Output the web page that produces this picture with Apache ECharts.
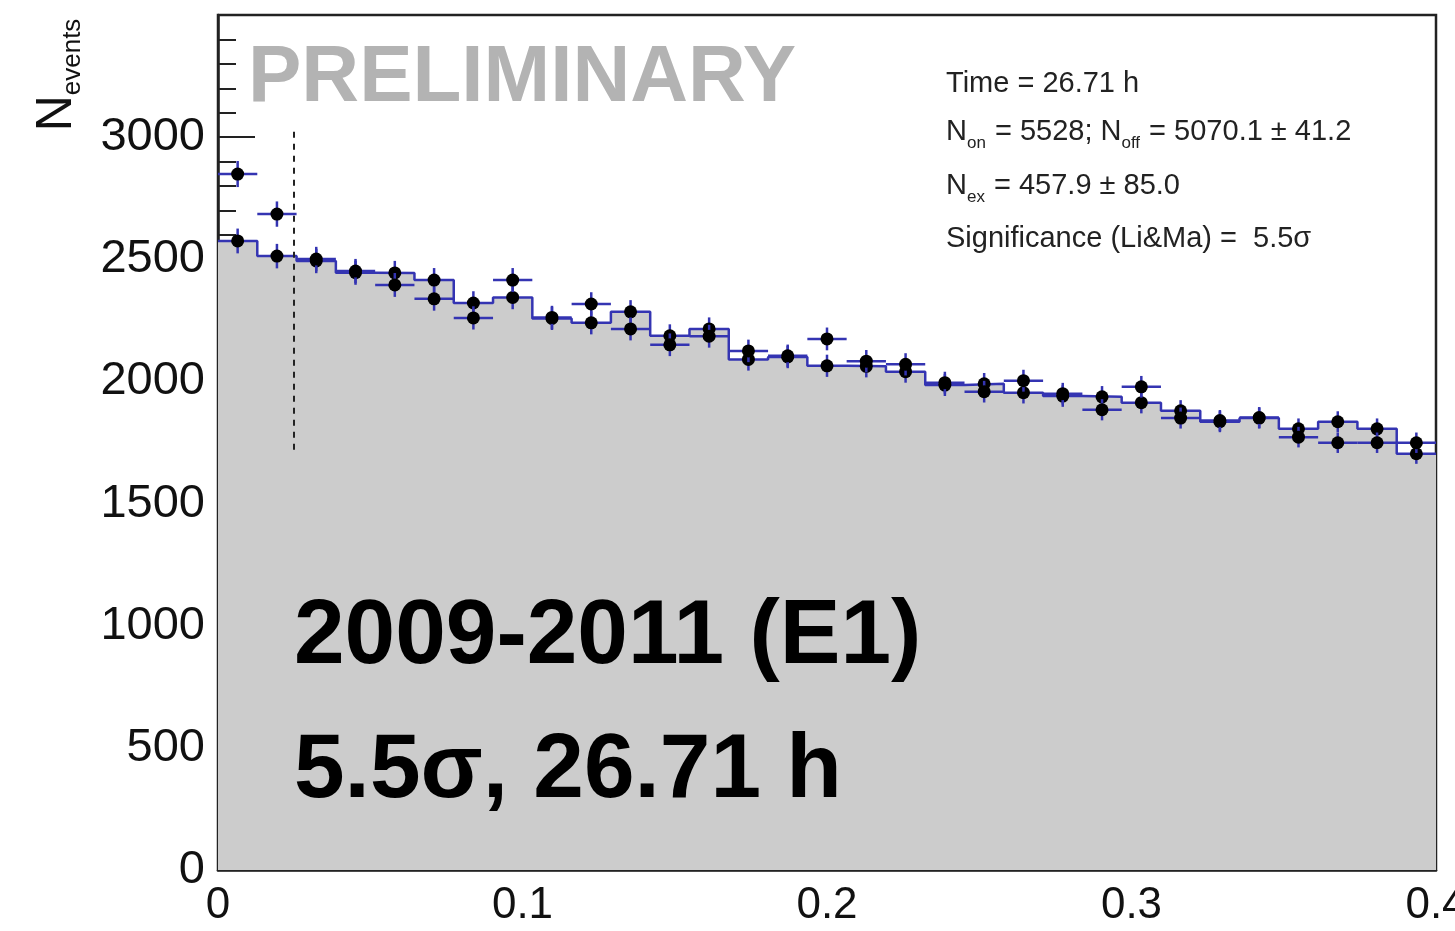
<!DOCTYPE html>
<html>
<head>
<meta charset="utf-8">
<script src="https://cdn.jsdelivr.net/npm/echarts@6/dist/echarts.min.js"></script>
<style>
html, body { margin: 0; padding: 0; background: #fff; }
#main { width: 1455px; height: 931px; }
</style>
</head>
<body>
<div id="main"></div>
<script>
// theta^2 histogram, 31 bins from 0 to 0.4
var xMax = 0.4;
var nBins = 31;
var onCounts = [2849, 2685, 2501, 2452, 2395, 2338, 2260, 2415, 2262, 2317, 2215,
                2150, 2185, 2125, 2105, 2174, 2083, 2070, 1995, 1958, 2003,
                1950, 1884, 1978, 1850, 1840, 1852, 1772, 1749, 1749, 1749];
var offCounts = [2575, 2513, 2493, 2445, 2444, 2415, 2321, 2344, 2258, 2240, 2285,
                 2187, 2215, 2090, 2100, 2064, 2062, 2040, 1985, 1990, 1954,
                 1940, 1937, 1913, 1880, 1835, 1850, 1806, 1835, 1806, 1704];
var thetaCut = 0.025;
var cutLineRange = [1720, 3040];
var statLines = ['Time = 26.71 h', 'N_on = 5528; N_off = 5070.1 ± 41.2', 'N_ex = 457.9 ± 85.0', 'Significance (Li&Ma) =  5.5σ'];

var blue = '#3434b2';
var binW = xMax / nBins;

// step outline for the background (off) histogram
var offStep = [];
var onPts = [];
var offPts = [];
for (var i = 0; i < nBins; i++) {
    offStep.push([i * binW, offCounts[i]]);
    offStep.push([(i + 1) * binW, offCounts[i]]);
    onPts.push([(i + 0.5) * binW, onCounts[i], binW]);
    offPts.push([(i + 0.5) * binW, offCounts[i], binW]);
}

function errRender(withXBar) {
    return function(params, api) {
        var xc = api.value(0), y = api.value(1), hw = api.value(2) / 2;
        var err = Math.sqrt(y);
        var p = api.coord([xc, y]);
        var l = api.coord([xc - hw, y]);
        var r = api.coord([xc + hw, y]);
        var t = api.coord([xc, y + err]);
        var b = api.coord([xc, y - err]);
        var kids = [];
        if (withXBar) {
            kids.push({type: 'line', shape: {x1: l[0], y1: l[1], x2: r[0], y2: r[1]},
                       style: {stroke: blue, lineWidth: 2.5}});
        }
        kids.push({type: 'line', shape: {x1: t[0], y1: t[1], x2: b[0], y2: b[1]},
                   style: {stroke: blue, lineWidth: 2.5}});
        kids.push({type: 'circle', shape: {cx: p[0], cy: p[1], r: 6.5}, style: {fill: '#000'}});
        return {type: 'group', children: kids};
    };
}

// text with subscripts: "N_on" -> N + sub
function richLine(s) {
    return s.replace(/N_(\w+)/g, function(m, sub) { return '{t|N}{s|' + sub + '}{t|}'; })
            .split(/(\{[ts]\|[^}]*\})/).map(function(part) {
                if (!part) return '';
                if (part.charAt(0) === '{') return part;
                return '{t|' + part + '}';
            }).join('');
}

var font = '"Liberation Sans", Arial, Helvetica, sans-serif';

var statGraphics = statLines.map(function(s, k) {
    return {
        type: 'text',
        left: 946,
        top: [69, 117, 171, 224][k],
        z: 100,
        style: {
            text: richLine(s),
            rich: {
                t: {fontSize: 29, fontFamily: font, fill: '#222', verticalAlign: 'top', lineHeight: 33},
                s: {fontSize: 17, fontFamily: font, fill: '#222', verticalAlign: 'top', padding: [18, 1, 0, 0], lineHeight: 17}
            }
        }
    };
});

var option = {
    backgroundColor: '#fff',
    animation: false,
    grid: {left: 218, right: 19, top: 15, bottom: 61, show: true, borderColor: '#222', borderWidth: 2.5,
           outerBoundsMode: 'none', containLabel: false},
    xAxis: {
        type: 'value', min: 0, max: xMax, interval: 0.1,
        axisLine: {show: true, onZero: false, lineStyle: {color: '#222', width: 2.5}},
        axisTick: {inside: true, length: 37, lineStyle: {color: '#222', width: 2}},
        minorTick: {show: true, splitNumber: 5, length: 18, lineStyle: {color: '#222', width: 2}},
        splitLine: {show: false},
        axisLabel: {fontSize: 44, fontFamily: font, color: '#111', margin: 14,
                    formatter: function(v) { return v === 0 ? '0' : v.toFixed(1); }}
    },
    yAxis: {
        type: 'value', min: 0, max: 3500, interval: 500,
        axisLine: {show: true, lineStyle: {color: '#222', width: 2.5}},
        axisTick: {inside: true, length: 37, lineStyle: {color: '#222', width: 2}},
        minorTick: {show: true, splitNumber: 5, length: 18, lineStyle: {color: '#222', width: 2}},
        splitLine: {show: false},
        axisLabel: {fontSize: 47, fontFamily: font, color: '#111', margin: 13,
                    formatter: function(v) { return v >= 3500 ? '' : String(v); }}
    },
    series: [
        {
            type: 'line', data: offStep, showSymbol: false, z: 1,
            lineStyle: {color: blue, width: 2.5},
            areaStyle: {color: '#cccccc', opacity: 1},
            markLine: {
                silent: true, symbol: 'none', label: {show: false},
                lineStyle: {color: '#222', type: [6, 6], width: 2},
                data: [[{coord: [thetaCut, cutLineRange[0]]}, {coord: [thetaCut, cutLineRange[1]]}]]
            }
        },
        {type: 'custom', data: offPts, renderItem: errRender(false), z: 3},
        {type: 'custom', data: onPts, renderItem: errRender(true), z: 4}
    ],
    graphic: [
        {
            type: 'text', x: 58, y: 75, rotation: Math.PI / 2, z: 100,
            style: {
                text: '{n|N}{e|events}', align: 'center', verticalAlign: 'middle',
                rich: {
                    n: {fontSize: 50, fontFamily: font, fill: '#111', verticalAlign: 'top', lineHeight: 52},
                    e: {fontSize: 26, fontFamily: font, fill: '#111', verticalAlign: 'top', padding: [28, 0, 0, 0], lineHeight: 26}
                }
            }
        },
        {
            type: 'text', x: 248, y: 79, z: 100,
            style: {text: 'PRELIMINARY', fontSize: 80, fontWeight: 'bold', fontFamily: font,
                    fill: '#b3b3b3', verticalAlign: 'middle'}
        },
        {
            type: 'text', x: 294, y: 638, z: 100,
            style: {text: '2009-2011 (E1)', fontSize: 91, fontWeight: 'bold', fontFamily: font,
                    fill: '#000', verticalAlign: 'middle'}
        },
        {
            type: 'text', x: 294, y: 772, z: 100,
            style: {text: '5.5σ, 26.71 h', fontSize: 91, fontWeight: 'bold', fontFamily: font,
                    fill: '#000', verticalAlign: 'middle'}
        }
    ].concat(statGraphics)
};

var myChart = echarts.init(document.getElementById('main'));
myChart.setOption(option);
</script>
</body>
</html>
